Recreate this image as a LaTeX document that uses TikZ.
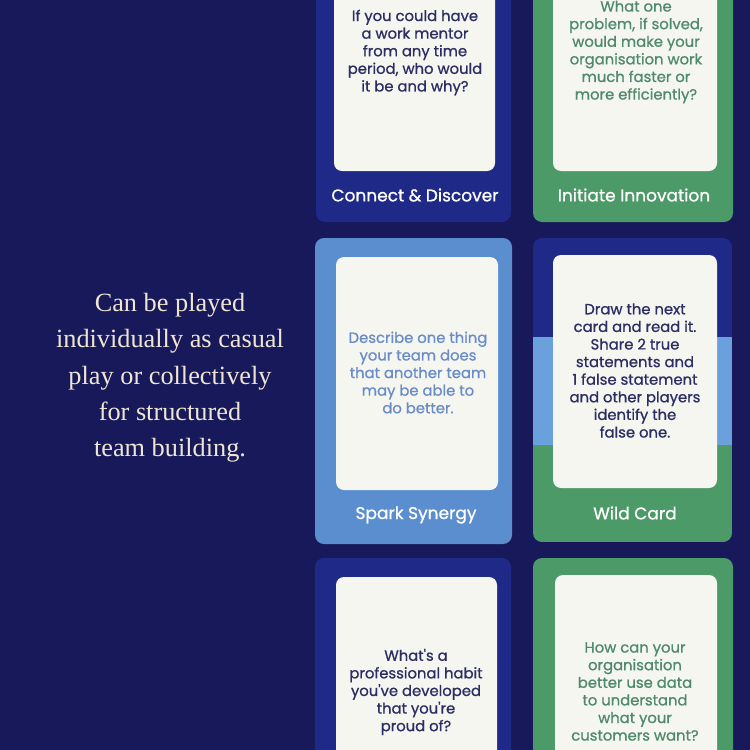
\documentclass[tikz,border=0pt]{standalone}
\usepackage{fontspec}
\newfontfamily\cardfont{Poppins}[RawFeature={embolden=0.9}]
\newfontfamily\blurbfont{Liberation Serif}
\definecolor{navy}{HTML}{17195A}
\definecolor{deckblue}{HTML}{1F2A88}
\definecolor{deckgreen}{HTML}{4C9A68}
\definecolor{decksky}{HTML}{5A8ECF}
\definecolor{stripesky}{HTML}{6AA0DB}
\definecolor{facewhite}{HTML}{F6F6F1}
\definecolor{inknavy}{HTML}{2B2E63}
\definecolor{inkgreen}{HTML}{4F8A6B}
\definecolor{inksky}{HTML}{6A8CC8}
\definecolor{cream}{HTML}{EFE6D2}

\begin{document}
\begin{tikzpicture}[x=1pt,y=-1pt,
    card/.style={rounded corners=9pt},
    face/.style={fill=facewhite,rounded corners=8pt},
    question/.style={align=center,inner sep=0pt,
        font=\cardfont\fontsize{14.8}{17.6}\selectfont},
    cardname/.style={inner sep=0pt,text=white,
        font=\cardfont\fontsize{17}{18}\selectfont}]

    \useasboundingbox (0,0) rectangle (750,750);
    \fill[navy] (0,0) rectangle (750,750);

    % Top row
    \fill[deckblue,card]  (316,-20) rectangle (511,222);
    \fill[face]           (334,-20) rectangle (495,171);
    \fill[deckgreen,card] (533,-20) rectangle (733,222);
    \fill[face]           (553,-20) rectangle (717,171);

    % Middle row
    \fill[decksky,card] (315,238) rectangle (512,544);
    \fill[face]         (336,257) rectangle (498,490);
    \begin{scope}
        \clip[card] (533,238) rectangle (732,542);
        \fill[deckblue]  (533,238) rectangle (732,337);
        \fill[stripesky] (533,337) rectangle (732,445);
        \fill[deckgreen] (533,445) rectangle (732,542);
    \end{scope}
    \fill[face] (553,255) rectangle (717,488);

    % Bottom row
    \fill[deckblue,card]  (315,558) rectangle (511,770);
    \fill[face]           (336,577) rectangle (497,770);
    \fill[deckgreen,card] (533,558) rectangle (733,770);
    \fill[face]           (555,575) rectangle (717,770);

    % Questions
    \node[question,text=inknavy]  (q1) at (415,52.5)
        {If you could have\\a work mentor\\from any time\\period, who would\\it be and why?};
    \node[question,text=inkgreen] (q2) at (636,52)
        {What one\\problem, if solved,\\would make your\\organisation work\\much faster or\\more efficiently?};
    \node[question,text=inksky]   (q3) at (418,372.5)
        {Describe one thing\\your team does\\that another team\\may be able to\\do better.};
    \node[question,text=inknavy]  (q4) at (635,370.5)
        {Draw the next\\card and read it.\\Share 2 true\\statements and\\1 false statement\\and other players\\identify the\\false one.};
    \node[question,text=inknavy]  (q5) at (416,692)
        {What's a\\professional habit\\you've developed\\that you're\\proud of?};
    \node[question,text=inkgreen] (q6) at (635,691.5)
        {How can your\\organisation\\better use data\\to understand\\what your\\customers want?};

    % Card names
    \node[cardname] (n1) at (415,195) {Connect \& Discover};
    \node[cardname] (n2) at (634,195) {Initiate Innovation};
    \node[cardname] (n3) at (416,515) {Spark Synergy};
    \node[cardname] (n4) at (635,513) {Wild Card};

    % Left text
    \node[align=center,inner sep=0pt,text=cream,
          font=\blurbfont\fontsize{26.3}{36.3}\selectfont] (blurb) at (170,378)
        {Can be played\\individually as casual\\play or collectively\\for structured\\team building.};
\end{tikzpicture}
\end{document}
